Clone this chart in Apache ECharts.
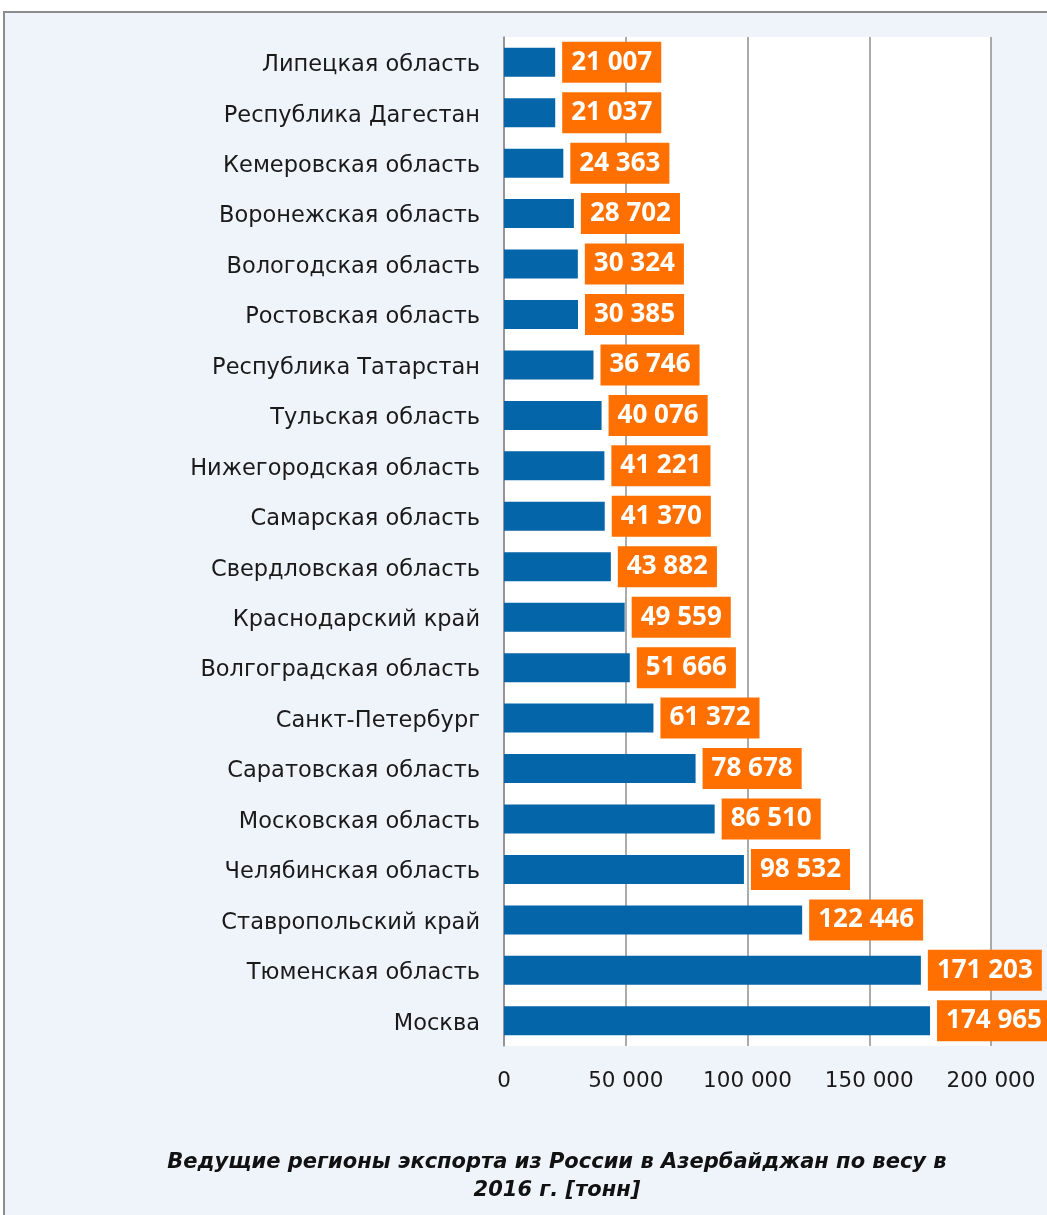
<!DOCTYPE html>
<html>
<head>
<meta charset="utf-8">
<script src="https://cdn.jsdelivr.net/npm/echarts@6/dist/echarts.min.js"></script>
<style>
  html, body { margin: 0; padding: 0; background: #fff; }
  #main { width: 1047px; height: 1215px; }
</style>
</head>
<body>
<div id="main"></div>
<script>
// регионы сверху вниз, как на картинке
var regions = [
  'Липецкая область', 'Республика Дагестан', 'Кемеровская область',
  'Воронежская область', 'Вологодская область', 'Ростовская область',
  'Республика Татарстан', 'Тульская область', 'Нижегородская область',
  'Самарская область', 'Свердловская область', 'Краснодарский край',
  'Волгоградская область', 'Санкт-Петербург', 'Саратовская область',
  'Московская область', 'Челябинская область', 'Ставропольский край',
  'Тюменская область', 'Москва'
]
var tonnes = [
  21007, 21037, 24363, 28702, 30324, 30385, 36746, 40076, 41221, 41370,
  43882, 49559, 51666, 61372, 78678, 86510, 98532, 122446, 171203, 174965
]
var xTicks = [0, 50000, 100000, 150000, 200000]
var titleText = 'Ведущие регионы экспорта из России в Азербайджан по весу в\n2016 г. [тонн]'

function fmt(v) {
  return String(v).replace(/\B(?=(\d{3})+(?!\d))/g, ' ')
}

var font = 'DejaVu Sans'
var myChart = echarts.init(document.getElementById('main'))
myChart.setOption({
  backgroundColor: '#ffffff',
  animation: false,
  textStyle: { fontFamily: font },
  graphic: [
    {
      type: 'rect',
      z: -100,
      shape: { x: 4, y: 12, width: 1200, height: 1400 },
      style: { fill: '#eff3fa', stroke: '#8c8c8c', lineWidth: 2 }
    },
    {
      type: 'text',
      x: 557,
      y: 1149,
      style: {
        text: titleText,
        textAlign: 'center',
        fontFamily: font,
        fontSize: 21,
        fontWeight: 'bold',
        fontStyle: 'italic',
        lineHeight: 28,
        fill: '#111'
      }
    }
  ],
  grid: {
    left: 504,
    right: 56,
    top: 37,
    bottom: 169,
    show: true,
    backgroundColor: '#ffffff',
    borderWidth: 0
  },
  xAxis: {
    type: 'value',
    min: xTicks[0],
    max: xTicks[xTicks.length - 1],
    interval: 50000,
    axisLine: { show: false },
    axisTick: { show: false },
    splitLine: { lineStyle: { color: '#8f8f8f', width: 1.5 } },
    axisLabel: {
      margin: 24,
      fontSize: 21.5,
      color: '#1a1a1a',
      formatter: function (v) { return fmt(v) }
    }
  },
  yAxis: {
    type: 'category',
    inverse: true,
    data: regions,
    axisLine: { show: true, lineStyle: { color: '#8f8f8f', width: 1.5 } },
    axisTick: { show: false },
    axisLabel: {
      margin: 24,
      color: '#1a1a1a',
      formatter: function (v) { return '{n|' + v + '}' },
      rich: {
        n: { fontSize: 22.5, color: '#1a1a1a', padding: [6, 0, 0, 0] }
      }
    }
  },
  series: [
    {
      type: 'bar',
      data: tonnes,
      barWidth: 29,
      itemStyle: { color: '#0565a9' },
      label: {
        show: true,
        position: 'right',
        distance: 7,
        formatter: function (p) { return fmt(p.value) },
        backgroundColor: '#ff7000',
        color: '#ffffff',
        fontFamily: 'Open Sans',
        fontWeight: 'bold',
        fontSize: 26,
        padding: [8, 9, 7, 9]
      }
    }
  ]
})
</script>
</body>
</html>
